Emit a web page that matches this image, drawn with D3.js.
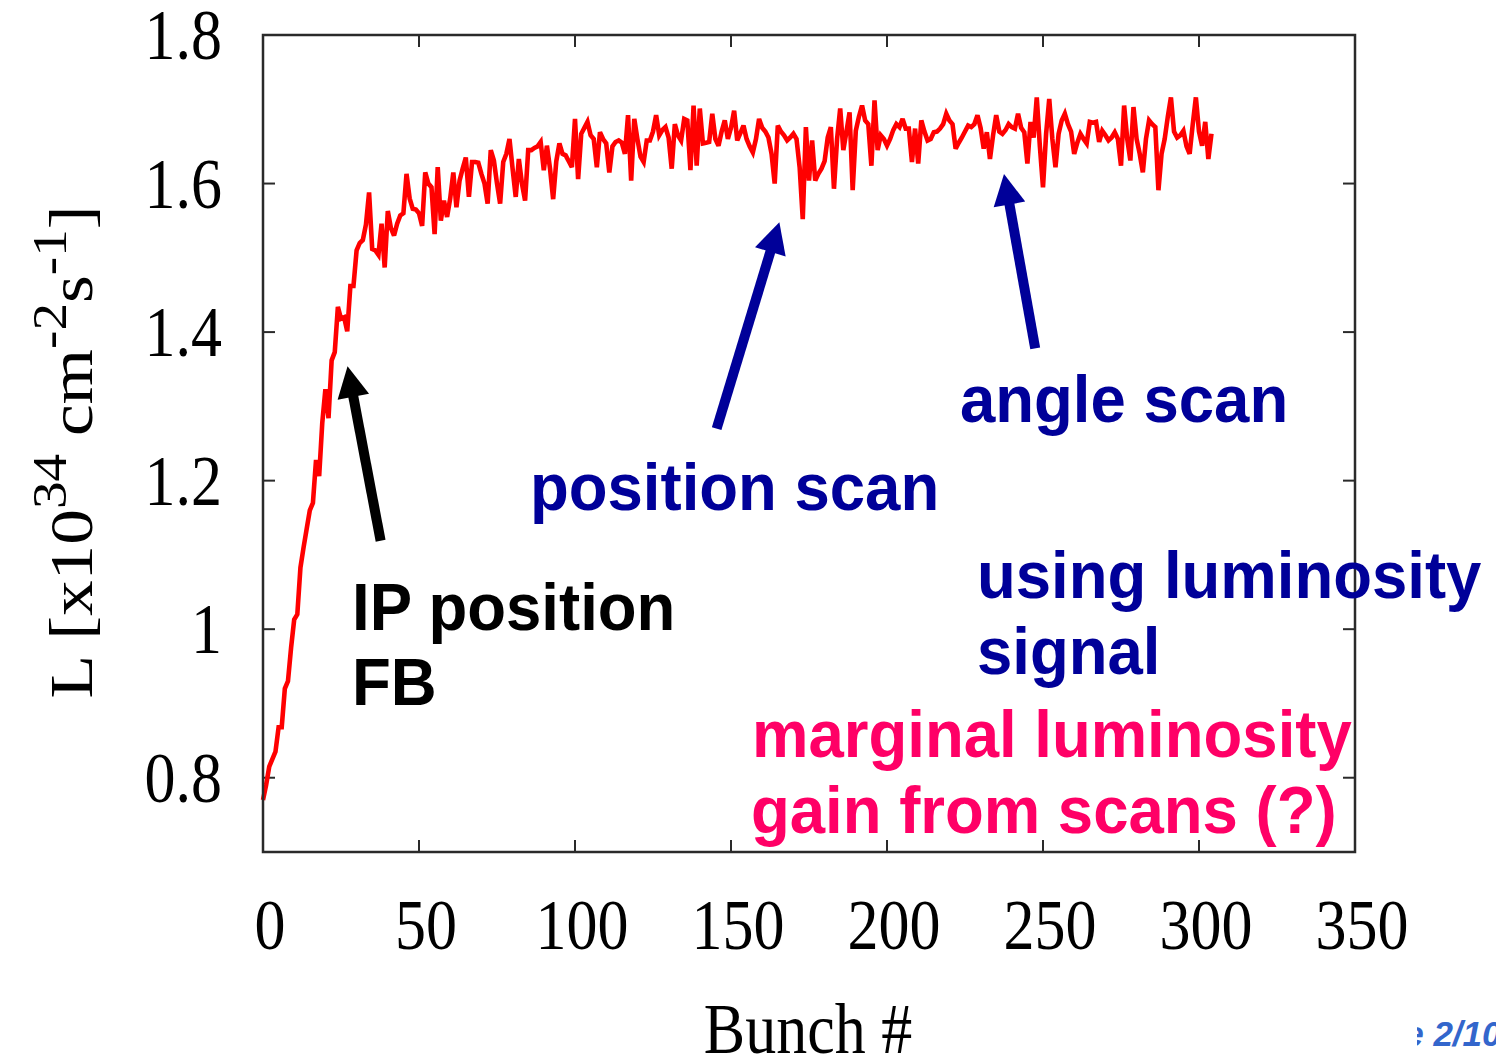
<!DOCTYPE html>
<html>
<head>
<meta charset="utf-8">
<script src="https://cdn.jsdelivr.net/npm/d3@7"></script>
<style>
  body { margin: 0; background: #fff; }
  svg { display: block; }
</style>
</head>
<body>
<svg id="chart" width="1496" height="1056"></svg>
<script>
// Axis ticks
const xTicks = [0, 50, 100, 150, 200, 250, 300, 350];
const xTickLabels = ["0", "50", "100", "150", "200", "250", "300", "350"];
const yTicks = [0.8, 1.0, 1.2, 1.4, 1.6, 1.8];
const yTickLabels = ["0.8", "1", "1.2", "1.4", "1.6", "1.8"];

// Luminosity per bunch, bunch # = array index (x10^34 cm^-2 s^-1)
const luminosity = [
  0.770, 0.790, 0.815, 0.825, 0.835, 0.868, 0.868, 0.920, 0.930, 0.975,
  1.013, 1.020, 1.083, 1.110, 1.135, 1.160, 1.170, 1.228, 1.206, 1.278,
  1.323, 1.284, 1.362, 1.373, 1.434, 1.418, 1.420, 1.401, 1.462, 1.462,
  1.510, 1.520, 1.524, 1.545, 1.588, 1.512, 1.510, 1.504, 1.546, 1.487,
  1.563, 1.540, 1.530, 1.546, 1.557, 1.560, 1.613, 1.580, 1.566, 1.565,
  1.560, 1.543, 1.615, 1.600, 1.595, 1.532, 1.622, 1.550, 1.577, 1.555,
  1.580, 1.615, 1.568, 1.604, 1.620, 1.635, 1.582, 1.629, 1.629, 1.628,
  1.613, 1.600, 1.573, 1.645, 1.631, 1.600, 1.573, 1.629, 1.640, 1.660,
  1.620, 1.582, 1.633, 1.600, 1.577, 1.645, 1.645, 1.648, 1.650, 1.656,
  1.618, 1.651, 1.620, 1.579, 1.630, 1.654, 1.640, 1.638, 1.630, 1.622,
  1.687, 1.606, 1.667, 1.675, 1.683, 1.665, 1.660, 1.622, 1.669, 1.660,
  1.654, 1.615, 1.650, 1.656, 1.658, 1.655, 1.640, 1.692, 1.604, 1.687,
  1.660, 1.636, 1.629, 1.658, 1.658, 1.670, 1.692, 1.665, 1.672, 1.676,
  1.662, 1.620, 1.680, 1.665, 1.658, 1.687, 1.685, 1.618, 1.705, 1.624,
  1.701, 1.654, 1.655, 1.656, 1.694, 1.660, 1.651, 1.670, 1.685, 1.660,
  1.675, 1.698, 1.658, 1.668, 1.678, 1.660, 1.650, 1.642, 1.660, 1.687,
  1.675, 1.670, 1.662, 1.640, 1.600, 1.678, 1.670, 1.665, 1.658, 1.662,
  1.667, 1.660, 1.622, 1.552, 1.676, 1.604, 1.658, 1.604, 1.613, 1.620,
  1.630, 1.662, 1.676, 1.593, 1.660, 1.701, 1.645, 1.670, 1.696, 1.591,
  1.671, 1.690, 1.705, 1.685, 1.680, 1.624, 1.712, 1.645, 1.665, 1.660,
  1.651, 1.660, 1.672, 1.680, 1.676, 1.687, 1.674, 1.674, 1.629, 1.674,
  1.627, 1.685, 1.670, 1.658, 1.660, 1.669, 1.670, 1.674, 1.680, 1.694,
  1.685, 1.680, 1.647, 1.655, 1.662, 1.670, 1.678, 1.676, 1.680, 1.692,
  1.675, 1.647, 1.669, 1.633, 1.665, 1.692, 1.670, 1.667, 1.672, 1.680,
  1.676, 1.674, 1.694, 1.675, 1.669, 1.627, 1.683, 1.662, 1.716, 1.650,
  1.595, 1.667, 1.714, 1.660, 1.622, 1.667, 1.685, 1.694, 1.680, 1.670,
  1.640, 1.655, 1.667, 1.660, 1.654, 1.683, 1.682, 1.683, 1.656, 1.671,
  1.665, 1.658, 1.662, 1.669, 1.660, 1.624, 1.705, 1.660, 1.631, 1.703,
  1.660, 1.640, 1.615, 1.660, 1.685, 1.680, 1.676, 1.591, 1.640, 1.660,
  1.690, 1.716, 1.670, 1.662, 1.665, 1.671, 1.650, 1.640, 1.680, 1.716,
  1.670, 1.651, 1.683, 1.633, 1.667
];

// Annotation arrows, tail -> tip, in data units (bunch, L)
const arrowTails = [[37.7, 1.119], [145.4, 1.270], [247.5, 1.378]];
const arrowTips  = [[27.1, 1.354], [165.5, 1.548], [237.5, 1.613]];
const arrowColors = ["#000000", "#000099", "#000099"];

const svg = d3.select("#chart");
const plot = { left: 263, right: 1355, top: 35, bottom: 852 };

const x = d3.scaleLinear().domain([0, 350]).range([plot.left, plot.right]);
const y = d3.scaleLinear().domain([0.7, 1.8]).range([plot.bottom, plot.top]);

const serif = "'Liberation Serif', 'Times New Roman', Times, serif";
const sans = "'Liberation Sans', Arial, Helvetica, sans-serif";
const frameColor = "#2a2a2a";
const tickLen = 12;

// Inward ticks on all four sides, mirrored
const axisG = svg.append("g").attr("stroke", frameColor).attr("stroke-width", 2);
axisG.selectAll("line.xb").data(xTicks.slice(1, -1)).join("line")
  .attr("x1", d => x(d)).attr("x2", d => x(d))
  .attr("y1", plot.bottom).attr("y2", plot.bottom - tickLen);
axisG.selectAll("line.xt").data(xTicks.slice(1, -1)).join("line")
  .attr("x1", d => x(d)).attr("x2", d => x(d))
  .attr("y1", plot.top).attr("y2", plot.top + tickLen);
axisG.selectAll("line.yl").data(yTicks).join("line")
  .attr("x1", plot.left).attr("x2", plot.left + tickLen)
  .attr("y1", d => y(d)).attr("y2", d => y(d));
axisG.selectAll("line.yr").data(yTicks).join("line")
  .attr("x1", plot.right).attr("x2", plot.right - tickLen)
  .attr("y1", d => y(d)).attr("y2", d => y(d));

// Luminosity curve
const line = d3.line()
  .x((d, i) => x(i))
  .y(d => y(d));
svg.append("path")
  .datum(luminosity)
  .attr("d", line)
  .attr("fill", "none")
  .attr("stroke", "#ff0000")
  .attr("stroke-width", 4.6)
  .attr("stroke-linejoin", "miter")
  .attr("stroke-miterlimit", 3);

// Frame
svg.append("rect")
  .attr("x", plot.left).attr("y", plot.top)
  .attr("width", plot.right - plot.left).attr("height", plot.bottom - plot.top)
  .attr("fill", "none").attr("stroke", frameColor).attr("stroke-width", 2.5);

// Tick labels (serif, slightly tall)
const labelScaleY = 1.15;
svg.append("g").selectAll("text").data(xTicks).join("text")
  .attr("transform", d => `translate(${x(d) + 7},949) scale(1,${labelScaleY})`)
  .attr("text-anchor", "middle")
  .attr("font-family", serif).attr("font-size", 62).attr("fill", "#000")
  .text((d, i) => xTickLabels[i]);
svg.append("g").selectAll("text").data(yTicks).join("text")
  .attr("transform", d => `translate(222,${y(d) + 24}) scale(1,${labelScaleY})`)
  .attr("text-anchor", "end")
  .attr("font-family", serif).attr("font-size", 62).attr("fill", "#000")
  .text((d, i) => yTickLabels[i]);

// Axis titles
svg.append("text")
  .attr("transform", `translate(808,1053) scale(1,${labelScaleY})`)
  .attr("text-anchor", "middle")
  .attr("font-family", serif).attr("font-size", 62).attr("fill", "#000")
  .text("Bunch #");

const yTitle = svg.append("text")
  .attr("transform", `translate(92,452) rotate(-90) scale(${labelScaleY},1)`)
  .attr("text-anchor", "middle")
  .attr("font-family", serif).attr("font-size", 62).attr("fill", "#000");
yTitle.append("tspan").text("L [x10");
yTitle.append("tspan").attr("font-size", 48).attr("dy", -26).text("34");
yTitle.append("tspan").attr("dy", 26).text(" cm");
yTitle.append("tspan").attr("font-size", 48).attr("dy", -26).text("-2");
yTitle.append("tspan").attr("dy", 26).text("s");
yTitle.append("tspan").attr("font-size", 48).attr("dy", -26).text("-1");
yTitle.append("tspan").attr("dy", 26).text("]");

// Arrows
const headLen = 31, headHalf = 16, shaftW = 10;
arrowTails.forEach((tail, i) => {
  const p0 = [x(tail[0]), y(tail[1])];
  const p1 = [x(arrowTips[i][0]), y(arrowTips[i][1])];
  const dx = p1[0] - p0[0], dy = p1[1] - p0[1];
  const len = Math.hypot(dx, dy);
  const ux = dx / len, uy = dy / len;
  const nx = -uy, ny = ux;
  const bx = p1[0] - ux * headLen, by = p1[1] - uy * headLen;
  const g = svg.append("g").attr("fill", arrowColors[i]);
  g.append("line")
    .attr("x1", p0[0]).attr("y1", p0[1])
    .attr("x2", bx + ux * 2).attr("y2", by + uy * 2)
    .attr("stroke", arrowColors[i]).attr("stroke-width", shaftW);
  g.append("path")
    .attr("d", `M${p1[0]},${p1[1]}L${bx + nx * headHalf},${by + ny * headHalf}L${bx - nx * headHalf},${by - ny * headHalf}Z`);
});

// Annotation text
const notes = [
  { text: "angle scan", x: 960, y: 422, color: "#000099" },
  { text: "position scan", x: 530, y: 510, color: "#000099" },
  { text: "IP position", x: 352, y: 630, color: "#000000" },
  { text: "FB", x: 352, y: 705, color: "#000000" },
  { text: "using luminosity", x: 977, y: 598, color: "#000099" },
  { text: "signal", x: 977, y: 674, color: "#000099" },
  { text: "marginal luminosity", x: 752, y: 757, color: "#ff0066" },
  { text: "gain from scans (?)", x: 751, y: 833, color: "#ff0066" }
];
svg.append("g").selectAll("text").data(notes).join("text")
  .attr("transform", d => `translate(${d.x},${d.y}) scale(1,1.05)`)
  .attr("font-family", sans).attr("font-weight", "bold").attr("font-size", 63.5)
  .attr("fill", d => d.color)
  .text(d => d.text);

// Page marker in the corner
svg.append("clipPath").attr("id", "pageClip")
  .append("rect").attr("x", 1417).attr("y", 990).attr("width", 100).attr("height", 70);
svg.append("text")
  .attr("clip-path", "url(#pageClip)")
  .attr("x", 1340).attr("y", 1046)
  .attr("font-family", sans).attr("font-weight", "bold").attr("font-style", "italic")
  .attr("font-size", 35).attr("fill", "#3366cc")
  .text("Page 2/10");
</script>
</body>
</html>
